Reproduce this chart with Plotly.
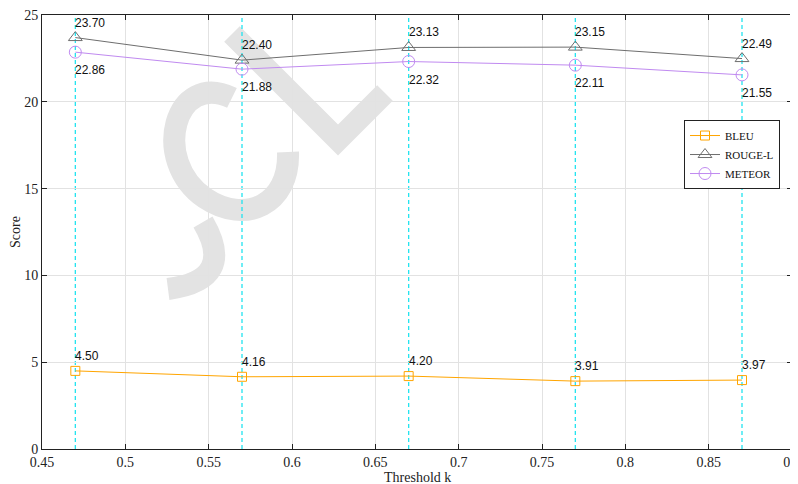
import plotly.graph_objects as go

thresholds = [0.47, 0.57, 0.67, 0.77, 0.87]
bleu = [4.50, 4.16, 4.20, 3.91, 3.97]
rouge_l = [23.70, 22.40, 23.13, 23.15, 22.49]
meteor = [22.86, 21.88, 22.32, 22.11, 21.55]
x_ticks = [0.45, 0.5, 0.55, 0.6, 0.65, 0.7, 0.75, 0.8, 0.85, 0.9]
x_ticktext = ["0.45", "0.5", "0.55", "0.6", "0.65", "0.7", "0.75", "0.8", "0.85", "0.9"]
y_ticks = [0, 5, 10, 15, 20, 25]

C_BLEU = "#FFA500"
C_ROUGE = "#6e6e6e"
C_METEOR = "#c08af0"
SERIF = "Liberation Serif"
SANS = "Liberation Sans"

# plot area in page pixels (for placing the faint background watermark strokes)
PL, PR, PT, PB = 42, 792, 15, 449


def px(xp, yp):
    return f"{(xp - PL) / (PR - PL):.4f},{(PB - yp) / (PB - PT):.4f}"


watermark_paths = [
    f"M {px(168, 289)} Q {px(237, 280)} {px(203, 222)}",
    f"M {px(232, 98)} C {px(175, 70)} {px(150, 160)} {px(205, 198)} C {px(245, 225)} {px(290, 205)} {px(288, 152)}",
    f"M {px(232, 34)} L {px(338, 140)} L {px(385, 93)}",
]

fig = go.Figure()
fig.add_trace(go.Scatter(x=thresholds, y=bleu, name="BLEU", mode="lines+markers",
                         line=dict(color=C_BLEU, width=1),
                         marker=dict(symbol="square-open", size=9, color=C_BLEU, line=dict(width=1))))
fig.add_trace(go.Scatter(x=thresholds, y=rouge_l, name="ROUGE-L", mode="lines+markers",
                         line=dict(color=C_ROUGE, width=1),
                         marker=dict(symbol="triangle-up-open", size=12, color=C_ROUGE, line=dict(width=1))))
fig.add_trace(go.Scatter(x=thresholds, y=meteor, name="METEOR", mode="lines+markers",
                         line=dict(color=C_METEOR, width=1),
                         marker=dict(symbol="circle-open", size=12, color=C_METEOR, line=dict(width=1))))

for p in watermark_paths:
    fig.add_shape(type="path", path=p, xref="paper", yref="paper",
                  line=dict(color="#e3e3e3", width=22), layer="below")

for xv in thresholds:
    fig.add_shape(type="line", x0=xv, x1=xv, y0=0, y1=1, xref="x", yref="paper",
                  line=dict(color="#22e4f0", width=1.3, dash="4px,3px"), layer="below")

annotations = []
for xv, yv in zip(thresholds, rouge_l):
    annotations.append(dict(x=xv, y=yv, text=f"{yv:.2f}", showarrow=False, xanchor="left",
                            yanchor="bottom", xshift=-2, yshift=6,
                            font=dict(family=SANS, size=12, color="#111")))
for xv, yv in zip(thresholds, meteor):
    annotations.append(dict(x=xv, y=yv, text=f"{yv:.2f}", showarrow=False, xanchor="left",
                            yanchor="top", xshift=-2, yshift=-9,
                            font=dict(family=SANS, size=12, color="#111")))
for xv, yv in zip(thresholds, bleu):
    annotations.append(dict(x=xv, y=yv, text=f"{yv:.2f}", showarrow=False, xanchor="left",
                            yanchor="bottom", xshift=-2, yshift=6,
                            font=dict(family=SANS, size=12, color="#111")))
annotations.append(dict(text="Threshold k", x=0.5, y=0, xref="paper", yref="paper",
                        xanchor="center", yanchor="top", yshift=-19, showarrow=False,
                        font=dict(family=SERIF, size=14, color="#222")))

fig.update_layout(
    width=790, height=476,
    margin=dict(l=34, r=6, t=7, b=35, autoexpand=False),
    paper_bgcolor="white", plot_bgcolor="white",
    font=dict(family=SERIF, size=14, color="#222"),
    annotations=annotations,
    legend=dict(x=0.856, y=0.758, xanchor="left", yanchor="top",
                bordercolor="#222", borderwidth=1, bgcolor="white",
                font=dict(family=SERIF, size=11, color="#111"),
                tracegroupgap=0, itemwidth=30),
    xaxis=dict(range=[0.45, 0.9], tickvals=x_ticks, ticktext=x_ticktext,
               showgrid=True, gridcolor="#e2e2e2", gridwidth=1,
               showline=True, linecolor="#222", linewidth=1, mirror="ticks",
               ticks="inside", ticklen=5, tickcolor="#222",
               tickfont=dict(family=SERIF, size=14), ticklabeloverflow="allow",
               automargin=False, zeroline=False),
    yaxis=dict(range=[0, 25], tickvals=y_ticks,
               showgrid=True, gridcolor="#e2e2e2", gridwidth=1,
               showline=True, linecolor="#222", linewidth=1, mirror="ticks",
               ticks="inside", ticklen=5, tickcolor="#222",
               tickfont=dict(family=SERIF, size=14), ticklabeloverflow="allow",
               title=dict(text="Score", font=dict(family=SERIF, size=14), standoff=8),
               automargin=False, zeroline=False),
    showlegend=True,
)

fig.write_html("out.html")
